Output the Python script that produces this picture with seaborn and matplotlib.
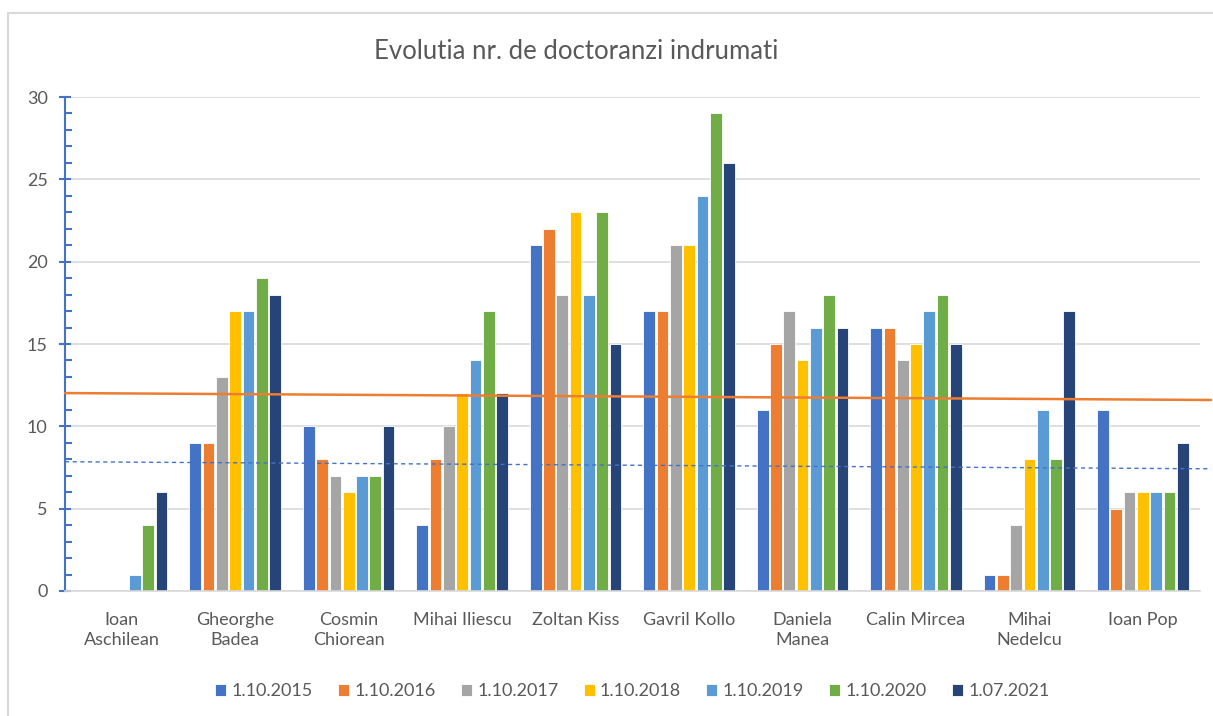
import pandas as pd
import numpy as np
import matplotlib.pyplot as plt
from matplotlib.patches import Rectangle
from matplotlib.ticker import MultipleLocator
import seaborn as sns

# data
names = ['Ioan\nAschilean', 'Gheorghe\nBadea', 'Cosmin\nChiorean', 'Mihai Iliescu',
         'Zoltan Kiss', 'Gavril Kollo', 'Daniela\nManea', 'Calin Mircea',
         'Mihai\nNedelcu', 'Ioan Pop']
dates = ['1.10.2015', '1.10.2016', '1.10.2017', '1.10.2018',
         '1.10.2019', '1.10.2020', '1.07.2021']
v2015 = [0, 9, 10, 4, 21, 17, 11, 16, 1, 11]
v2016 = [0, 9, 8, 8, 22, 17, 15, 16, 1, 5]
v2017 = [0, 13, 7, 10, 18, 21, 17, 14, 4, 6]
v2018 = [0, 17, 6, 12, 23, 21, 14, 15, 8, 6]
v2019 = [1, 17, 7, 14, 18, 24, 16, 17, 11, 6]
v2020 = [4, 19, 7, 17, 23, 29, 18, 18, 8, 6]
v2021 = [6, 18, 10, 12, 15, 26, 16, 15, 17, 9]
# trend lines (value at left edge, value at right edge)
trend_orange = [12.02, 11.6]
trend_blue = [7.85, 7.42]

colors = ['#4472C4', '#ED7D31', '#A5A5A5', '#FFC000', '#5B9BD5', '#70AD47', '#264478']

series = [v2015, v2016, v2017, v2018, v2019, v2020, v2021]
rows = []
for d, vals in zip(dates, series):
    for n, v in zip(names, vals):
        rows.append({'name': n, 'date': d, 'value': v})
df = pd.DataFrame(rows)

sns.set_style('white')
plt.rcParams['font.family'] = ['Lato', 'DejaVu Sans']

fig = plt.figure(figsize=(12.13, 7.16), dpi=100)
ax = fig.add_axes([0.0536, 0.1746, 0.9354, 0.6899])

sns.barplot(data=df, x='name', y='value', hue='date', palette=colors,
            saturation=1, width=0.82, gap=0.12, edgecolor='white', linewidth=0.6,
            ax=ax, legend=True)

# trend lines across the plot area
ax.plot([-0.5, 9.6], trend_orange, color='#ED7D31', lw=1.8, clip_on=False, zorder=5)
ax.plot([-0.5, 9.6], trend_blue, color='#4472C4', lw=1, ls=(0, (3, 2.5)),
        clip_on=False, zorder=5)

ax.set_xlim(-0.5, 9.5)
ax.set_ylim(0, 30)
ax.yaxis.set_major_locator(MultipleLocator(5))
ax.yaxis.set_minor_locator(MultipleLocator(1))
ax.yaxis.grid(True, color='#D9D9D9', lw=1.2)
ax.set_axisbelow(True)

for s in ['top', 'right']:
    ax.spines[s].set_visible(False)
ax.spines['left'].set_color('#4472C4')
ax.spines['left'].set_linewidth(1.5)
ax.spines['bottom'].set_color('#D9D9D9')
ax.spines['bottom'].set_linewidth(1.2)

ax.tick_params(axis='y', which='major', left=True, direction='inout', length=9,
               width=1.5, color='#4472C4', labelsize=13, labelcolor='#595959', pad=8)
ax.tick_params(axis='y', which='minor', left=True, direction='in', length=5,
               width=1.5, color='#4472C4')
ax.tick_params(axis='x', length=0, labelsize=13, labelcolor='#595959', pad=15)
for lbl in ax.get_xticklabels():
    lbl.set_linespacing(1.35)
ax.set_xlabel('')
ax.set_ylabel('')

fig.text(0.475, 0.928, 'Evolutia nr. de doctoranzi indrumati', ha='center',
         va='center', fontsize=18.5, color='#595959')

ax.legend(loc='center', bbox_to_anchor=(0.5, -0.203), ncol=7, frameon=False,
          fontsize=13, handlelength=0.6, handleheight=0.6, handletextpad=0.3,
          columnspacing=1.4, labelcolor='#595959')

# chart border
fig.patches.append(Rectangle((8 / 1213, -0.1), 1.2, 1 - 13 / 716 + 0.1,
                             transform=fig.transFigure, fill=False,
                             edgecolor='#D9D9D9', lw=1.5))

fig.savefig('out.png', dpi=100)
